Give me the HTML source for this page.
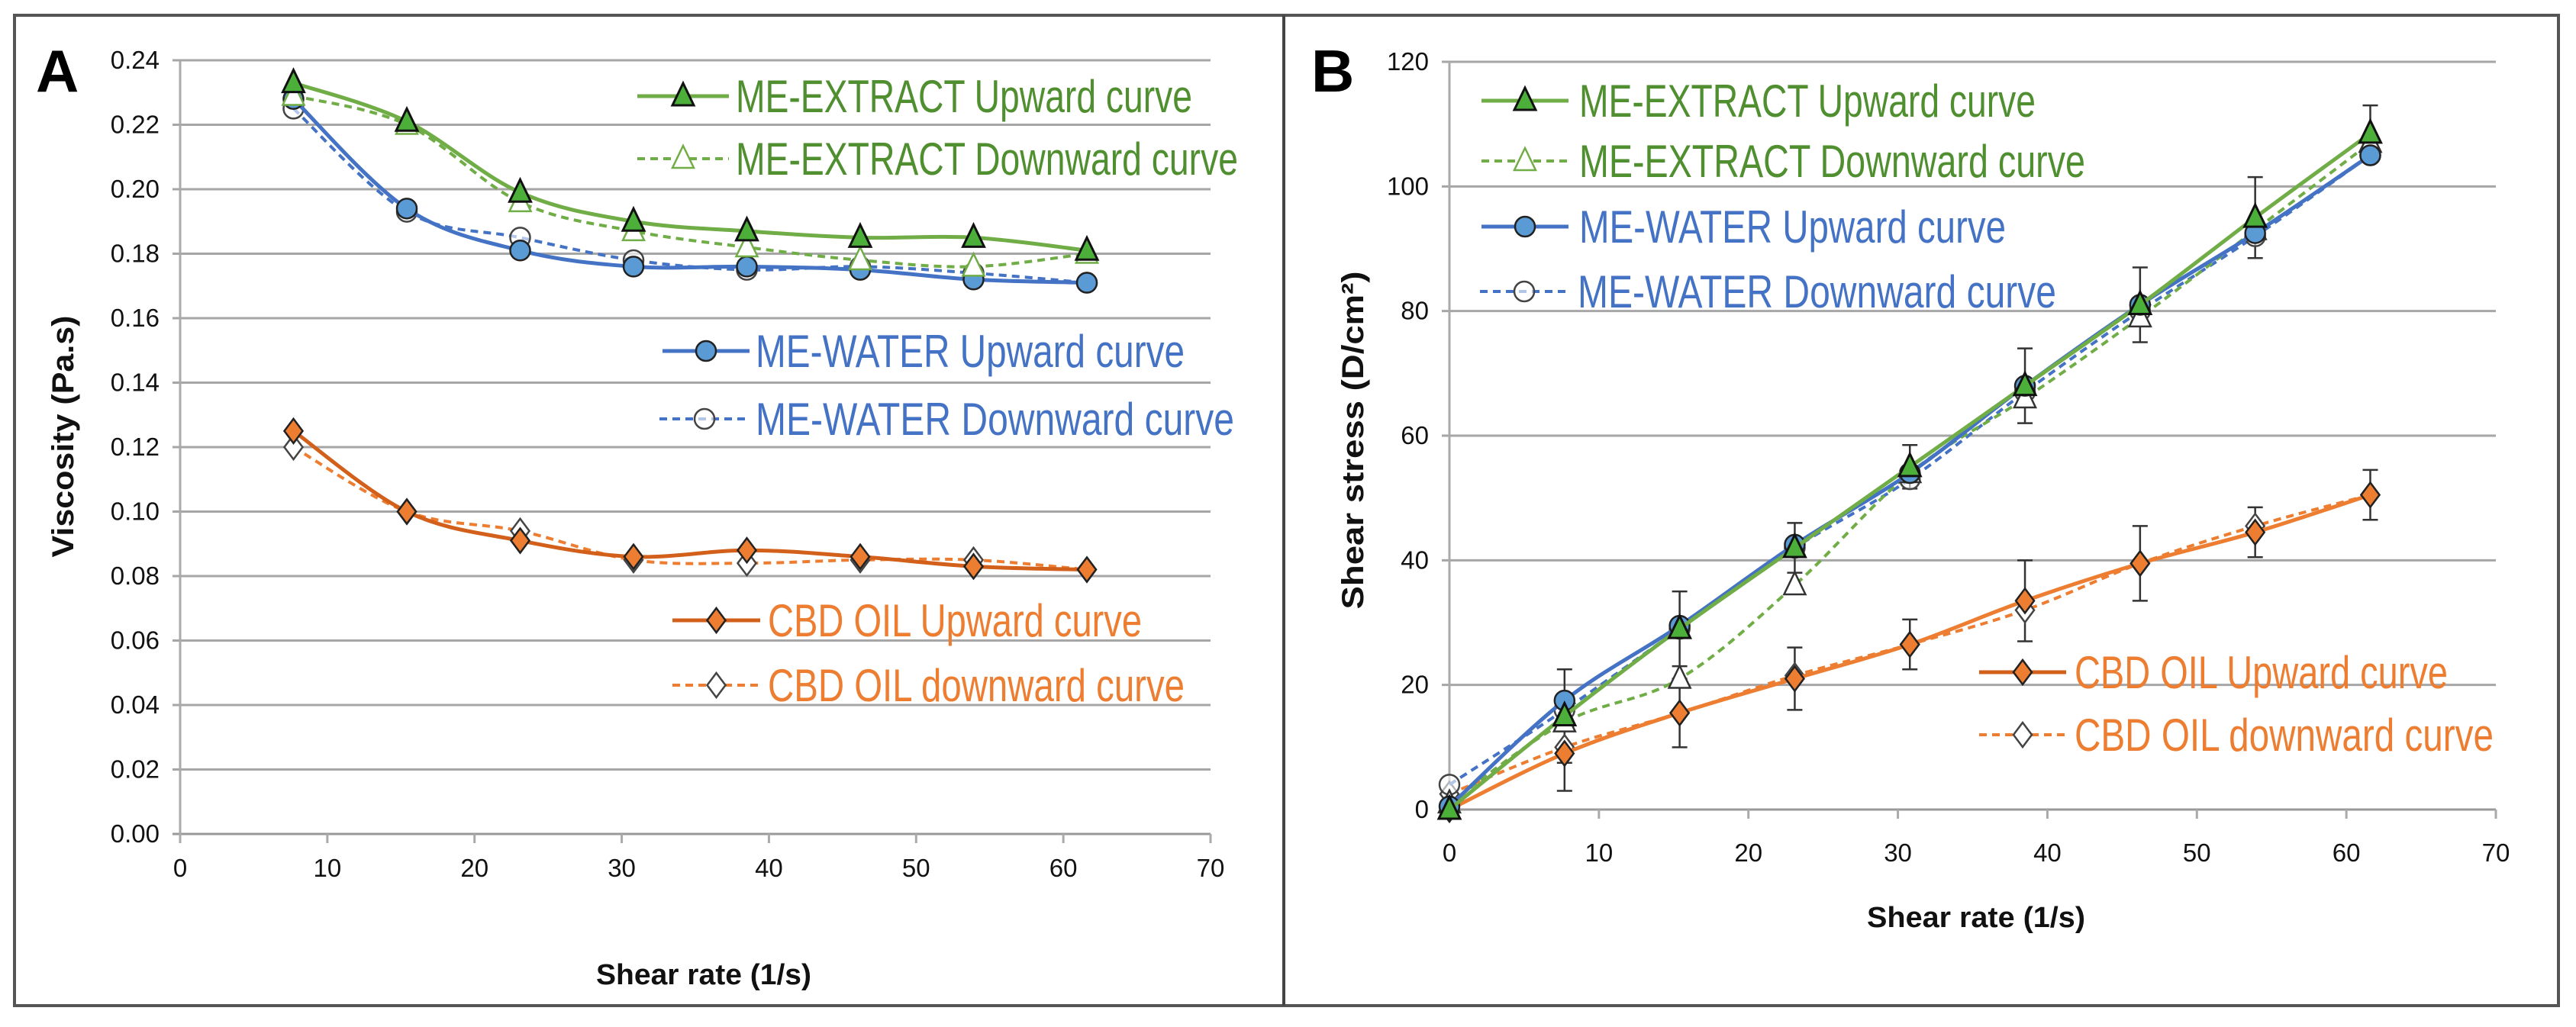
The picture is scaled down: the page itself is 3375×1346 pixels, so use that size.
<!DOCTYPE html>
<html><head><meta charset="utf-8">
<style>
html,body{margin:0;padding:0;background:#fff;}
svg{display:block;font-family:"Liberation Sans",sans-serif;}
</style></head>
<body>
<svg id="fig" width="3375" height="1346" viewBox="0 0 3375 1346" xmlns="http://www.w3.org/2000/svg">
<rect x="0" y="0" width="3375" height="1346" fill="#fff"/>
<rect x="19" y="20" width="3333" height="1298" fill="none" stroke="#555" stroke-width="4"/>
<line x1="1682" y1="20" x2="1682" y2="1318" stroke="#444" stroke-width="4"/>
<g id="pa"></g>
<g id="pb"></g>
</svg>
<script>
// ---------- Panel A data ----------
const xA = [7.7, 15.4, 23.1, 30.8, 38.5, 46.2, 53.9, 61.6];
const aExtUp   = [0.233, 0.221, 0.199, 0.190, 0.187, 0.185, 0.185, 0.181];
const aExtDown = [0.229, 0.220, 0.196, 0.187, 0.182, 0.178, 0.176, 0.180];
const aWatUp   = [0.228, 0.194, 0.181, 0.176, 0.176, 0.175, 0.172, 0.171];
const aWatDown = [0.225, 0.193, 0.185, 0.178, 0.175, 0.176, 0.174, 0.171];
const aCbdUp   = [0.125, 0.100, 0.091, 0.086, 0.088, 0.086, 0.083, 0.082];
const aCbdDown = [0.120, 0.100, 0.094, 0.085, 0.084, 0.085, 0.085, 0.082];
const aYTicks = ["0.00","0.02","0.04","0.06","0.08","0.10","0.12","0.14","0.16","0.18","0.20","0.22","0.24"];
const xTicks = [0,10,20,30,40,50,60,70];
// ---------- Panel B data ----------
const xB = [0, 7.7, 15.4, 23.1, 30.8, 38.5, 46.2, 53.9, 61.6];
const bExtUp   = [0, 15, 29, 42, 55, 68, 81, 95, 108.5];
const bExtDown = [1, 14, 21, 36, 54, 66, 79, 93, 107];
const bWatUp   = [0.5, 17.5, 29.5, 42.5, 54, 68, 81, 92.5, 105];
const bWatDown = [4, 16, 29, 42, 53, 67, 80, 92, 105];
const bCbdUp   = [0, 9, 15.5, 21, 26.5, 33.5, 39.5, 44.5, 50.5];
const bCbdDown = [2.5, 10, 15.5, 21.5, 26.5, 32, 39.5, 45.5, 50.5];
const bExtErr  = [0, 7.5, 6, 4, 3.5, 6, 6, 6.5, 4.5];
const bCbdErr  = [0, 6, 5.5, 5, 4, 6.5, 6, 4, 4];
const bYTicks = ["0","20","40","60","80","100","120"];

const NS="http://www.w3.org/2000/svg";
function mk(tag, attrs, parent){const e=document.createElementNS(NS,tag);for(const k in attrs)e.setAttribute(k,attrs[k]);parent.appendChild(e);return e;}

const GREEN="#70ad47", GREENT="#4f8f2f", BLUE="#4472c4", BLUEF="#5b9bd5", ORANGE="#ed7d31", ORDK="#d2601a";

function smoothPath(pts){
  if(pts.length<2)return "";
  let d="M"+pts[0][0]+","+pts[0][1];
  for(let i=0;i<pts.length-1;i++){
    const p0=pts[Math.max(0,i-1)],p1=pts[i],p2=pts[i+1],p3=pts[Math.min(pts.length-1,i+2)];
    const t=0.17;
    const c1=[p1[0]+(p2[0]-p0[0])*t,p1[1]+(p2[1]-p0[1])*t];
    const c2=[p2[0]-(p3[0]-p1[0])*t,p2[1]-(p3[1]-p1[1])*t];
    d+=" C"+c1+" "+c2+" "+p2;
  }
  return d;
}
function marker(g,type,filled,color,x,y){
  let e;
  if(type==="tri"){
    e=mk("path",{d:`M${x},${y-17} L${x+14},${y+12} L${x-14},${y+12} Z`,fill:filled?color:"#fff",stroke:filled?"#111":color,"stroke-width":filled?3:2.5},g);
  }else if(type==="circ"){
    e=mk("circle",{cx:x,cy:y,r:13,fill:filled?BLUEF:"#fff","fill-opacity":filled?1:0.6,stroke:filled?"#222":"#444","stroke-width":2.5},g);
  }else{
    e=mk("path",{d:`M${x},${y-16} L${x+12},${y} L${x},${y+16} L${x-12},${y} Z`,fill:filled?ORANGE:"#fff",stroke:filled?"#222":"#444","stroke-width":2.5},g);
  }
  return e;
}

function panel(root,cfg){
  const sx=v=>cfg.x0+(v-0)*(cfg.x1-cfg.x0)/70;
  const sy=v=>cfg.y0-(v-cfg.ymin)*(cfg.y0-cfg.y1)/(cfg.ymax-cfg.ymin);
  // gridlines & y ticks
  cfg.yTicks.forEach(t=>{
    const v=parseFloat(t), y=sy(v);
    const gl=mk("line",{x1:cfg.x0-10,x2:cfg.x1,y1:y,y2:y,stroke:v===cfg.ymin?"#999":"#a6a6a6","stroke-width":3},root);
    
    
    const tl=mk("text",{x:cfg.x0-27,y:y+11,"text-anchor":"end","font-size":33,fill:"#111"},root);
    tl.textContent=t;
    
    
  });
  const ya=mk("line",{x1:cfg.x0,x2:cfg.x0,y1:cfg.y1,y2:cfg.y0+12,stroke:"#aaa","stroke-width":3},root);
  
  
  xTicks.forEach(v=>{
    const x=sx(v);
    mk("line",{x1:x,x2:x,y1:cfg.y0,y2:cfg.y0+12,stroke:"#aaa","stroke-width":3},root);
    const tl=mk("text",{x:x,y:cfg.y0+cfg.tickDy,"text-anchor":"middle","font-size":33,fill:"#111"},root);
    tl.textContent=v;
    
    
  });
  // axis titles
  const xt=mk("text",{x:cfg.xtX,y:cfg.xtY,"text-anchor":"middle","font-size":38,"font-weight":"bold",fill:"#111",textLength:cfg.xtLen,lengthAdjust:"spacingAndGlyphs"},root);
  xt.textContent="Shear rate (1/s)";
  
  
  const yt=mk("text",{x:0,y:0,"text-anchor":"middle","font-size":40,"font-weight":"bold",fill:"#111",textLength:cfg.ytLen,lengthAdjust:"spacingAndGlyphs",transform:`translate(${cfg.ytX},${cfg.ytY}) rotate(-90)`},root);
  yt.textContent=cfg.yTitle;
  
  
  const pl=mk("text",{x:cfg.lblX,y:cfg.lblY,"font-size":78,"font-weight":"bold",fill:"#000"},root);
  pl.textContent=cfg.label;
  
  
  // error bars
  (cfg.errs||[]).forEach(eb=>{
    eb.vals.forEach((v,i)=>{
      const e=eb.err[i]; if(!e)return;
      const x=sx(eb.xs[i]);
      const b=mk("path",{d:`M${x},${sy(v-e)} L${x},${sy(v+e)} M${x-10},${sy(v-e)} L${x+10},${sy(v-e)} M${x-10},${sy(v+e)} L${x+10},${sy(v+e)}`,stroke:"#333","stroke-width":2.5,fill:"none"},root);
      
      
    });
  });
  // series
  cfg.series.forEach(s=>{
    const g=mk("g",{},root);
    
    
    const pts=s.vals.map((v,i)=>[sx(s.xs[i]),sy(v)]);
    const ln=mk("path",{d:smoothPath(pts),fill:"none",stroke:s.lineColor,"stroke-width":s.dash?4:5,"stroke-dasharray":s.dash?"10,7":"none"},g);
    
    
    pts.forEach(p=>{
      const m=marker(g,s.mk,s.filled,s.mkColor,p[0],p[1]);
      
      
    });
  });
  // legend
  cfg.legend.forEach(L=>{
    const g=mk("g",{},root);
    
    
    mk("line",{x1:L.lx1,x2:L.lx2,y1:L.y,y2:L.y,stroke:L.lineColor,"stroke-width":L.dash?4:5,"stroke-dasharray":L.dash?"10,7":"none"},g);
    marker(g,L.mk,L.filled,L.mkColor,(L.lx1+L.lx2)/2,L.y);
    const t=mk("text",{x:L.tx,y:L.y+21,"font-size":60,fill:L.tc,textLength:L.tw,lengthAdjust:"spacingAndGlyphs"},g);
    t.textContent=L.text;
    
    
  });
}

panel(document.getElementById("pa"),{
  x0:236,x1:1586,y0:1093,y1:79,ymin:0,ymax:0.24,yTicks:aYTicks,tickDy:56,
  xtX:922,xtY:1290,xtLen:282,ytX:96,ytY:572,ytLen:317,yTitle:"Viscosity (Pa.s)",
  label:"A",lblX:47,lblY:120,
  series:[
    {name:"cbd-oil-downward-curve",xs:xA,vals:aCbdDown,lineColor:ORANGE,dash:true,mk:"dia",filled:false},
    {name:"cbd-oil-upward-curve",xs:xA,vals:aCbdUp,lineColor:ORDK,dash:false,mk:"dia",filled:true},
    {name:"me-water-downward-curve",xs:xA,vals:aWatDown,lineColor:BLUE,dash:true,mk:"circ",filled:false},
    {name:"me-water-upward-curve",xs:xA,vals:aWatUp,lineColor:BLUE,dash:false,mk:"circ",filled:true},
    {name:"me-extract-downward-curve",xs:xA,vals:aExtDown,lineColor:GREEN,dash:true,mk:"tri",filled:false,mkColor:GREEN},
    {name:"me-extract-upward-curve",xs:xA,vals:aExtUp,lineColor:GREEN,dash:false,mk:"tri",filled:true,mkColor:"#4caf3a"}
  ],
  legend:[
    {y:126,lx1:835,lx2:955,tx:964,tw:598,text:"ME-EXTRACT Upward curve",lineColor:GREEN,mk:"tri",filled:true,mkColor:"#4caf3a",tc:GREENT},
    {y:208,lx1:835,lx2:955,tx:964,tw:658,text:"ME-EXTRACT Downward curve",lineColor:GREEN,dash:true,mk:"tri",filled:false,mkColor:GREEN,tc:GREENT},
    {y:460,lx1:868,lx2:982,tx:990,tw:562,text:"ME-WATER Upward curve",lineColor:BLUE,mk:"circ",filled:true,tc:BLUE},
    {y:549,lx1:864,lx2:982,tx:990,tw:627,text:"ME-WATER Downward curve",lineColor:BLUE,dash:true,mk:"circ",filled:false,tc:BLUE},
    {y:813,lx1:881,lx2:996,tx:1006,tw:490,text:"CBD OIL Upward curve",lineColor:ORDK,mk:"dia",filled:true,tc:ORANGE},
    {y:898,lx1:881,lx2:996,tx:1006,tw:546,text:"CBD OIL downward curve",lineColor:ORANGE,dash:true,mk:"dia",filled:false,tc:ORANGE}
  ]
});

panel(document.getElementById("pb"),{
  x0:1899,x1:3270,y0:1061,y1:81,ymin:0,ymax:120,yTicks:bYTicks,tickDy:68,
  xtX:2589,xtY:1215,xtLen:286,ytX:1786,ytY:577,ytLen:443,yTitle:"Shear stress (D/cm²)",
  label:"B",lblX:1718,lblY:120,
  errs:[{xs:xB,vals:bExtUp,err:bExtErr},{xs:xB,vals:bCbdUp,err:bCbdErr}],
  series:[
    {name:"cbd-oil-downward-curve",xs:xB,vals:bCbdDown,lineColor:ORANGE,dash:true,mk:"dia",filled:false},
    {name:"cbd-oil-upward-curve",xs:xB,vals:bCbdUp,lineColor:ORANGE,dash:false,mk:"dia",filled:true},
    {name:"me-water-downward-curve",xs:xB,vals:bWatDown,lineColor:BLUE,dash:true,mk:"circ",filled:false},
    {name:"me-extract-downward-curve",xs:xB,vals:bExtDown,lineColor:GREEN,dash:true,mk:"tri",filled:false,mkColor:"#333"},
    {name:"me-water-upward-curve",xs:xB,vals:bWatUp,lineColor:BLUE,dash:false,mk:"circ",filled:true},
    {name:"me-extract-upward-curve",xs:xB,vals:bExtUp,lineColor:GREEN,dash:false,mk:"tri",filled:true,mkColor:"#4caf3a"}
  ],
  legend:[
    {y:132,lx1:1941,lx2:2055,tx:2069,tw:598,text:"ME-EXTRACT Upward curve",lineColor:GREEN,mk:"tri",filled:true,mkColor:"#4caf3a",tc:GREENT},
    {y:211,lx1:1941,lx2:2055,tx:2069,tw:663,text:"ME-EXTRACT Downward curve",lineColor:GREEN,dash:true,mk:"tri",filled:false,mkColor:GREEN,tc:GREENT},
    {y:297,lx1:1941,lx2:2055,tx:2069,tw:559,text:"ME-WATER Upward curve",lineColor:BLUE,mk:"circ",filled:true,tc:BLUE},
    {y:382,lx1:1939,lx2:2055,tx:2067,tw:627,text:"ME-WATER Downward curve",lineColor:BLUE,dash:true,mk:"circ",filled:false,tc:BLUE},
    {y:881,lx1:2593,lx2:2707,tx:2718,tw:489,text:"CBD OIL Upward curve",lineColor:ORDK,mk:"dia",filled:true,tc:ORANGE},
    {y:963,lx1:2593,lx2:2707,tx:2718,tw:549,text:"CBD OIL downward curve",lineColor:ORANGE,dash:true,mk:"dia",filled:false,tc:ORANGE}
  ]
});
</script>
</body></html>
